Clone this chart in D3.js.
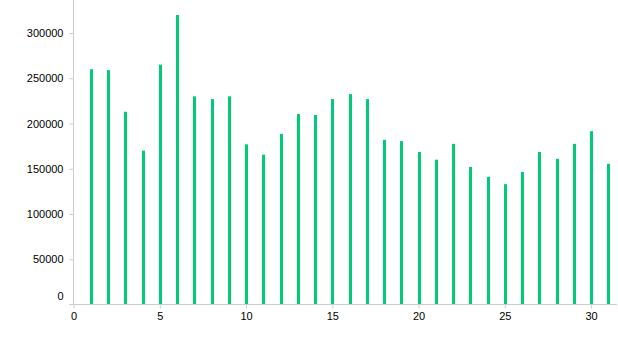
<!DOCTYPE html>
<html><head><meta charset="utf-8">
<script src="https://cdn.jsdelivr.net/npm/d3@7"></script>
<style>
body{margin:0;background:#fff;}
svg text{font-family:Arial,"Liberation Sans",sans-serif;}
</style>
</head><body>
<svg id="c" width="618" height="353"></svg>
<script>
const days = [1,2,3,4,5,6,7,8,9,10,11,12,13,14,15,16,17,18,19,20,21,22,23,24,25,26,27,28,29,30,31];
const values = [260000,259000,213000,170000,265000,320000,230000,227000,230000,177000,165500,188500,210500,209500,227000,232500,227000,182000,180500,168500,160000,177500,152000,141000,133000,146500,168500,161000,177500,191500,155500];
const xTicks = [0,5,10,15,20,25,30];
const yTicks = [0,50000,100000,150000,200000,250000,300000];

const svg = d3.select("#c");
const x = d3.scaleLinear().domain([0,31.5]).range([73.5,617]);
const y = d3.scaleLinear().domain([0,300000]).range([304.5,33]);

// y axis
const ya = svg.append("g").attr("transform","translate(73.5,0)")
  .call(d3.axisLeft(y).tickValues(yTicks).tickSize(4).tickPadding(6).tickFormat(d3.format("d")));
ya.select(".domain").attr("d","M0,0V304.5").attr("stroke","#ccc");
ya.selectAll(".tick line").attr("stroke","#ccc");
ya.selectAll(".tick text").attr("font-size",11).attr("fill","#000");
ya.selectAll(".tick").filter(d=>d===0).select("text").attr("dy","-0.45em");
ya.selectAll(".tick").filter(d=>d===0).select("line").remove();

// x axis
const xa = svg.append("g").attr("transform","translate(0,304.5)")
  .call(d3.axisBottom(x).tickValues(xTicks).tickSize(4).tickPadding(4).tickFormat(d3.format("d")));
xa.select(".domain").attr("d","M69,0H617").attr("stroke","#ccc");
xa.selectAll(".tick line").attr("stroke","#ccc");
xa.selectAll(".tick text").attr("font-size",11).attr("fill","#000");

// bars
svg.append("g").selectAll("line").data(days).join("line")
  .attr("x1",(d)=>Math.round(x(d))+0.5).attr("x2",(d)=>Math.round(x(d))+0.5)
  .attr("y1",y(0)-0.5).attr("y2",(d,i)=>y(values[i]))
  .attr("stroke","#00cc77").attr("stroke-width",3);
</script>
</body></html>
